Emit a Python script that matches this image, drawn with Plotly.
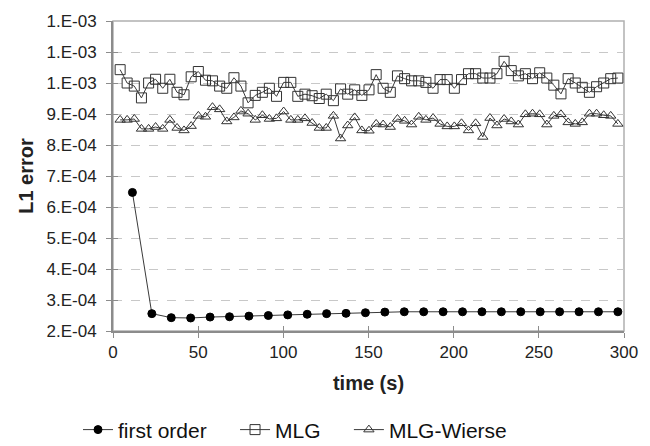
import plotly.graph_objects as go

# time stamps (s)
t_first = [11.4, 22.8, 34.2, 45.6, 57.0, 68.4, 79.8, 91.2, 102.6, 114.0, 125.4, 136.8, 148.2,
           159.6, 171.0, 182.4, 193.8, 205.2, 216.6, 228.0, 239.4, 250.8, 262.2, 273.6, 285.0, 296.4]
t_mlg = [4.2, 8.3, 12.5, 16.7, 20.9, 25.0, 29.2, 33.4, 37.6, 41.7, 45.9, 50.1, 54.3, 58.4, 62.6,
         66.8, 71.0, 75.1, 79.3, 83.5, 87.7, 91.8, 96.0, 100.2, 104.4, 108.5, 112.7, 116.9, 121.1,
         125.2, 129.4, 133.6, 137.8, 141.9, 146.1, 150.3, 154.5, 158.6, 162.8, 167.0, 171.2, 175.3,
         179.5, 183.7, 187.9, 192.0, 196.2, 200.4, 204.6, 208.7, 212.9, 217.1, 221.3, 225.4, 229.6,
         233.8, 238.0, 242.1, 246.3, 250.5, 254.7, 258.8, 263.0, 267.2, 271.4, 275.5, 279.7, 283.9,
         288.1, 292.2, 296.4]

# L1 error of each scheme
err_first = [6.47e-4, 2.56e-4, 2.43e-4, 2.42e-4, 2.45e-4, 2.46e-4, 2.48e-4, 2.50e-4, 2.52e-4,
             2.54e-4, 2.56e-4, 2.57e-4, 2.59e-4, 2.61e-4, 2.62e-4, 2.62e-4, 2.62e-4, 2.62e-4,
             2.62e-4, 2.62e-4, 2.62e-4, 2.62e-4, 2.62e-4, 2.62e-4, 2.62e-4, 2.62e-4]
err_mlg = [1.043e-3, 1.000e-3, 0.990e-3, 0.952e-3, 1.000e-3, 1.012e-3, 0.983e-3, 1.012e-3, 0.970e-3,
           0.962e-3, 1.020e-3, 1.037e-3, 1.009e-3, 1.007e-3, 0.990e-3, 0.983e-3, 1.017e-3, 0.990e-3,
           0.936e-3, 0.960e-3, 0.970e-3, 0.983e-3, 0.957e-3, 1.002e-3, 1.002e-3, 0.957e-3, 0.964e-3,
           0.959e-3, 0.950e-3, 0.964e-3, 0.943e-3, 0.981e-3, 0.964e-3, 0.978e-3, 0.960e-3, 0.978e-3,
           1.027e-3, 0.983e-3, 0.970e-3, 1.023e-3, 1.014e-3, 1.007e-3, 1.007e-3, 1.002e-3, 0.983e-3,
           1.011e-3, 1.011e-3, 0.983e-3, 1.011e-3, 1.030e-3, 1.030e-3, 1.016e-3, 1.016e-3, 1.030e-3,
           1.070e-3, 1.040e-3, 1.023e-3, 1.030e-3, 1.014e-3, 1.033e-3, 1.016e-3, 0.993e-3, 0.965e-3,
           1.014e-3, 1.000e-3, 0.986e-3, 0.970e-3, 0.988e-3, 1.000e-3, 1.014e-3, 1.016e-3]
err_wierse = [8.81e-4, 8.81e-4, 8.84e-4, 8.52e-4, 8.52e-4, 8.58e-4, 8.52e-4, 8.81e-4, 8.55e-4,
              8.47e-4, 8.61e-4, 8.94e-4, 8.91e-4, 9.22e-4, 9.15e-4, 8.76e-4, 8.89e-4, 9.10e-4,
              9.01e-4, 8.81e-4, 8.96e-4, 8.84e-4, 8.86e-4, 9.08e-4, 8.81e-4, 8.81e-4, 8.86e-4,
              8.71e-4, 8.55e-4, 8.55e-4, 8.94e-4, 8.21e-4, 8.63e-4, 8.89e-4, 8.47e-4, 8.46e-4,
              8.68e-4, 8.66e-4, 8.58e-4, 8.84e-4, 8.78e-4, 8.66e-4, 8.91e-4, 8.81e-4, 8.87e-4,
              8.68e-4, 8.60e-4, 8.60e-4, 8.70e-4, 8.47e-4, 8.70e-4, 8.26e-4, 8.87e-4, 8.63e-4,
              8.84e-4, 8.76e-4, 8.66e-4, 8.99e-4, 9.01e-4, 8.99e-4, 8.66e-4, 8.94e-4, 8.99e-4,
              8.73e-4, 8.68e-4, 8.73e-4, 9.01e-4, 9.01e-4, 8.96e-4, 8.94e-4, 8.68e-4]

# axis ticks
x_ticks = [0, 50, 100, 150, 200, 250, 300]
y_ticks = [2e-4, 3e-4, 4e-4, 5e-4, 6e-4, 7e-4, 8e-4, 9e-4, 1.0e-3, 1.1e-3, 1.2e-3]
y_tick_labels = ["2.E-04", "3.E-04", "4.E-04", "5.E-04", "6.E-04", "7.E-04", "8.E-04",
                 "9.E-04", "1.E-03", "1.E-03", "1.E-03"]

FONT = "Liberation Sans, Arial, sans-serif"
LINE = "#3a3a3a"
AXIS = "#8c8c8c"
PAD = "\u00a0" * 4  # extra room between legend entries

fig = go.Figure()
fig.add_trace(go.Scatter(
    x=t_first, y=err_first, name="first order" + PAD, mode="lines+markers",
    line=dict(color=LINE, width=1),
    marker=dict(symbol="circle", size=8, color="black", line=dict(color="black", width=1)),
))
fig.add_trace(go.Scatter(
    x=t_mlg, y=err_mlg, name="MLG" + PAD, mode="lines+markers",
    line=dict(color=LINE, width=1),
    marker=dict(symbol="square-open", size=10, color="#333333", line=dict(width=1)),
))
fig.add_trace(go.Scatter(
    x=t_mlg, y=err_wierse, name="MLG-Wierse", mode="lines+markers",
    line=dict(color=LINE, width=1),
    marker=dict(symbol="triangle-up-open", size=9, color="#333333", line=dict(width=1)),
))

fig.update_layout(
    width=650, height=446,
    margin=dict(l=113, r=16, t=15, b=115),
    paper_bgcolor="white", plot_bgcolor="white",
    font=dict(family=FONT, color="#222222", size=17),
    showlegend=True,
    legend=dict(
        orientation="h", xref="container", yref="container",
        x=0.12, y=0.036, xanchor="left", yanchor="middle",
        font=dict(size=21, color="#111111"),
        itemwidth=30, tracegroupgap=0,
    ),
    xaxis=dict(
        range=[0, 300], tickvals=x_ticks, ticks="outside", ticklen=5, tickcolor=AXIS,
        showline=True, linecolor=AXIS, linewidth=2, showgrid=False, zeroline=False,
        tickfont=dict(size=17),
        title=dict(text="<b>time (s)</b>", font=dict(size=20), standoff=15),
    ),
    yaxis=dict(
        range=[2e-4, 1.2e-3], tickvals=y_ticks, ticktext=y_tick_labels,
        ticks="outside", ticklen=5, tickcolor=AXIS,
        showline=True, linecolor=AXIS, linewidth=2,
        showgrid=True, gridcolor="#c8c8c8", griddash="dash", gridwidth=1, zeroline=False,
        tickfont=dict(size=17), ticklabelstandoff=6,
        title=dict(text="<b>L1 error</b>", font=dict(size=20), standoff=8),
    ),
    # inner halves of the crossing tick marks
    xaxis2=dict(range=[0, 300], tickvals=x_ticks, ticks="inside", ticklen=5,
                tickcolor=AXIS, showticklabels=False, showgrid=False,
                zeroline=False, overlaying="x", side="bottom", anchor="y"),
    yaxis2=dict(range=[2e-4, 1.2e-3], tickvals=y_ticks, ticks="inside", ticklen=5,
                tickcolor=AXIS, showticklabels=False, showgrid=False,
                zeroline=False, overlaying="y", side="left", anchor="x"),
)

# empty trace that brings up the inner tick axes
fig.add_trace(go.Scatter(x=[None], y=[None], xaxis="x2", yaxis="y2",
                         showlegend=False, hoverinfo="skip"))

# plot-area frame on top and right
fig.add_shape(type="rect", xref="paper", yref="paper", x0=0, y0=0, x1=1, y1=1,
              line=dict(color="#b0b0b0", width=1.5), layer="below")

fig.write_html("out.html")
